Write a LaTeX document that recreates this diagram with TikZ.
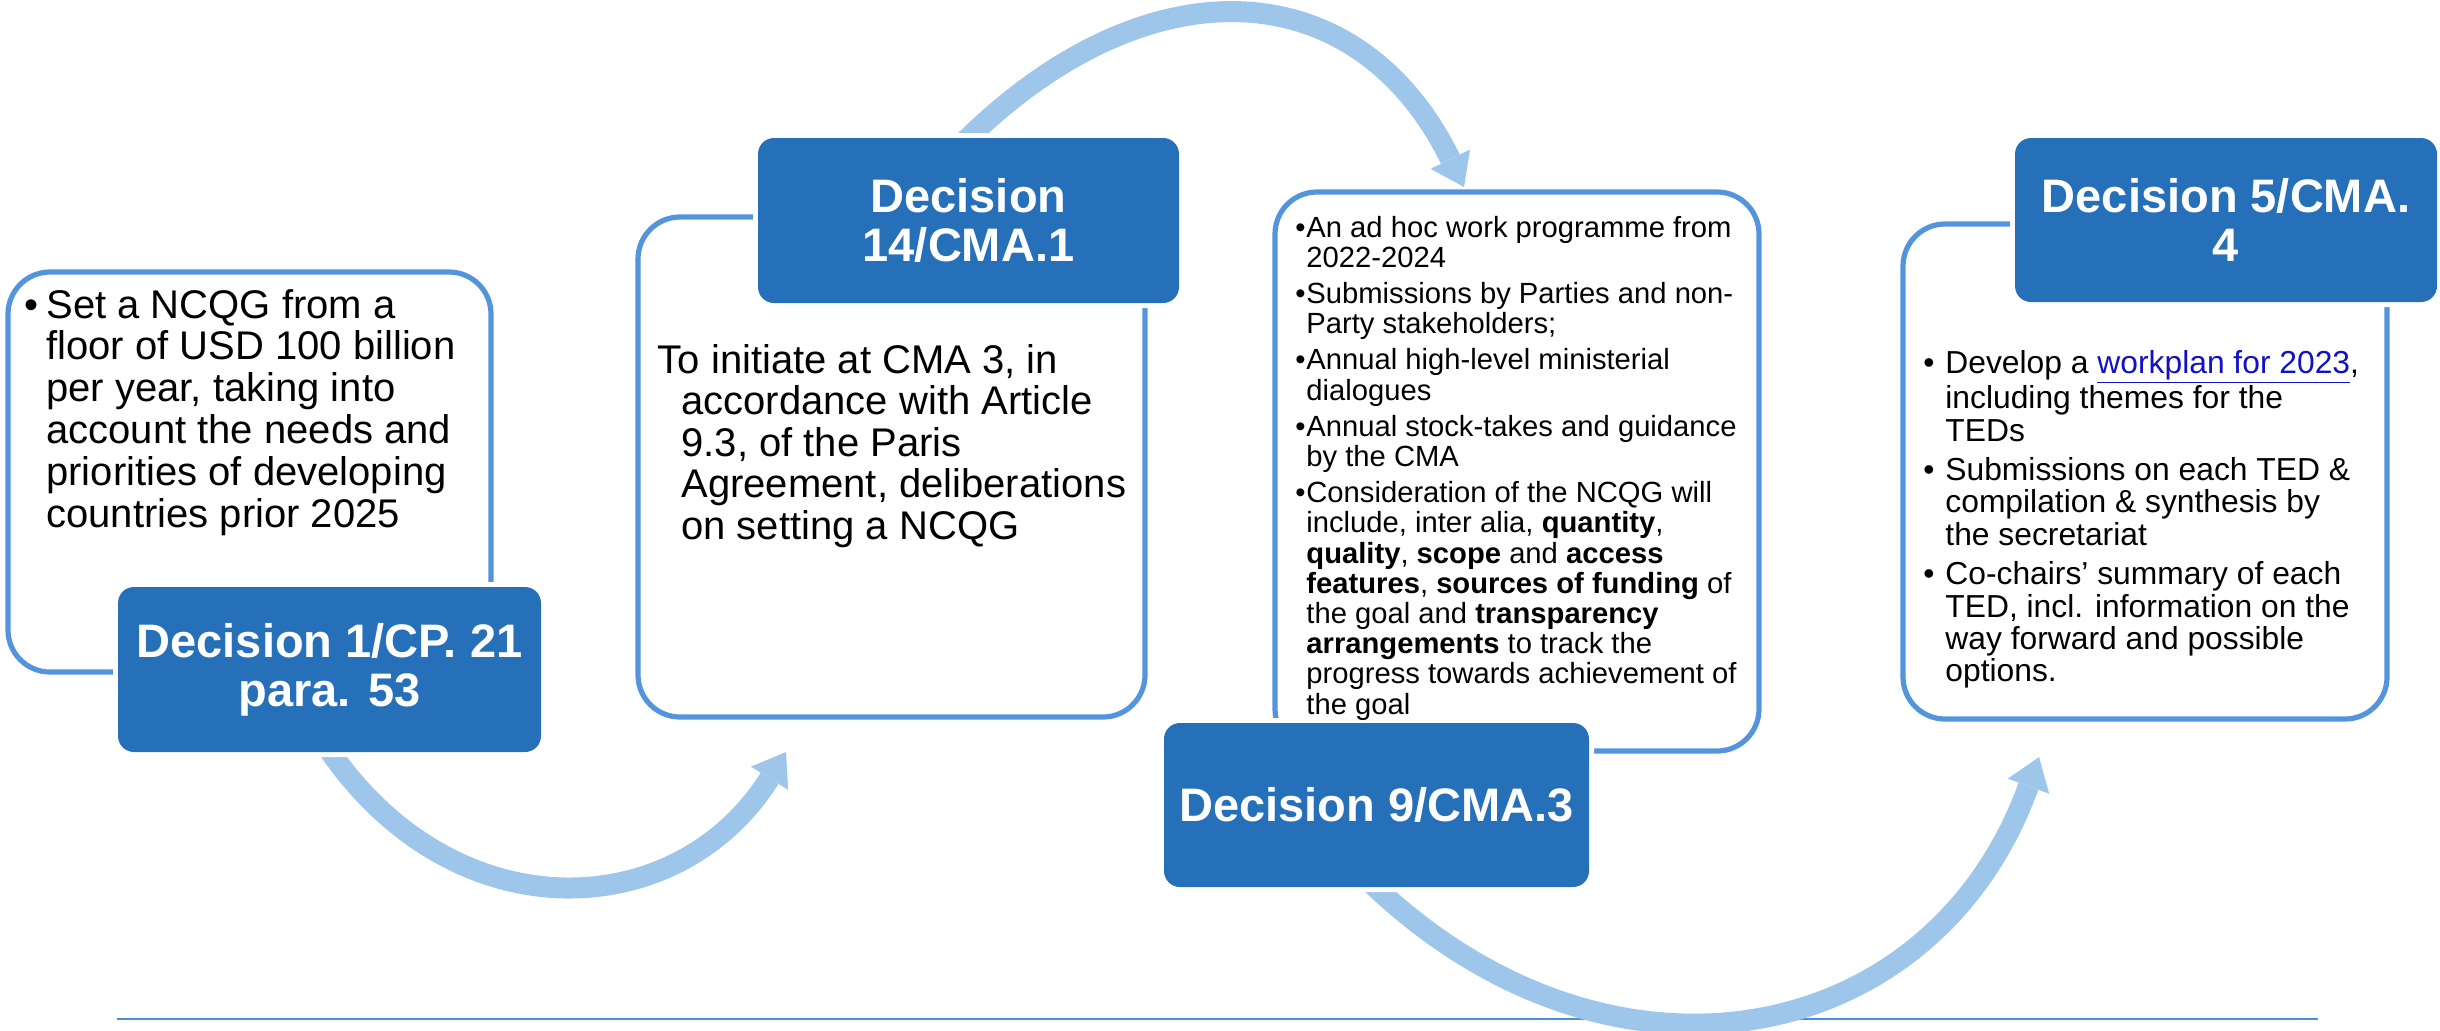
\documentclass[tikz,border=0pt]{standalone}
\usepackage{fontspec}
\setmainfont{Liberation Sans}
\usetikzlibrary{arrows.meta}
\definecolor{darkblue}{RGB}{38,112,185}
\definecolor{bordercol}{RGB}{83,148,221}
\definecolor{arrowcol}{RGB}{158,198,235}
\definecolor{linecol}{RGB}{74,144,217}
\definecolor{linkblue}{RGB}{17,17,204}
\newcommand{\hbul}[2]{\hangindent=#1\hangafter=1\noindent\makebox[#1][l]{•}#2\par}
\begin{document}
\begin{tikzpicture}[x=0.5pt,y=-0.5pt,
  wbox/.style={draw=bordercol, line width=2.6pt, rounded corners=21pt, fill=white, inner sep=0pt},
  bbox/.style={fill=darkblue, rounded corners=8pt, inner sep=0pt,
    preaction={draw=white,line width=5pt}, text=white,
    font=\bfseries\fontsize{23.5pt}{24.5pt}\selectfont, align=center},
  bigarrow/.style={draw=arrowcol, line width=10.5pt,
    -{Triangle[width=22pt,length=15.5pt,line width=0pt]}},
  txt/.style={anchor=base west, inner sep=0pt}]
\useasboundingbox (0,0) rectangle (2440,1030);

% bottom rule
\coordinate (l1) at (117,1019);
\coordinate (l2) at (2318,1019);
\draw[linecol, line width=1.4pt] (l1) -- (l2);

% white boxes
\node[wbox, minimum width=241.5pt, minimum height=200pt] (w1) at (249.5,472) {};
\node[wbox, minimum width=253.5pt, minimum height=250pt] (w2) at (891.5,467) {};
\node[wbox, minimum width=242pt, minimum height=279.5pt] (w3) at (1517,471.5) {};
\node[wbox, minimum width=242pt, minimum height=247.5pt] (w4) at (2145,471.5) {};

% arrows
\coordinate (a1s) at (323,741);
\coordinate (a1e) at (786,752);
\draw[bigarrow] (a1s) .. controls (449,935) and (677,926) .. (a1e);
\coordinate (a2s) at (964,142);
\coordinate (a2e) at (1464,187);
\draw[bigarrow] (a2s) .. controls (1148,-40) and (1358,-29) .. (a2e);
\coordinate (a3s) at (1371,883);
\coordinate (a3e) at (2039,757);
\draw[bigarrow] (a3s) .. controls (1610,1112) and (1933,1050) .. (a3e);

% blue heading boxes
\node[bbox, minimum width=211.5pt, minimum height=82.5pt] (d1) at (329.5,669.5) {Decision 1/CP. 21\\para. 53};
\node[bbox, minimum width=210.5pt, minimum height=82.5pt] (d2) at (968.5,220.5) {Decision\\14/CMA.1};
\node[bbox, minimum width=212.5pt, minimum height=82pt] (d3) at (1376.5,805) {Decision 9/CMA.3};
\node[bbox, minimum width=211pt, minimum height=82pt] (d4) at (2226,220) {Decision 5/CMA.\\4};

% texts
\node[txt] (t1) at (24,318) {\parbox[t]{400pt}{\fontsize{20pt}{20.9pt}\selectfont\raggedright
\hbul{11pt}{Set a NCQG from a\newline floor of USD 100 billion\newline per year, taking into\newline account the needs and\newline priorities of developing\newline countries prior 2025}}};

\node[txt] (t2) at (657.5,373) {\parbox[t]{400pt}{\fontsize{20pt}{20.75pt}\selectfont\raggedright
\hangindent=11.75pt\hangafter=1\noindent To initiate at CMA 3, in\newline accordance with Article\newline 9.3, of the Paris\newline Agreement, deliberations\newline on setting a NCQG\par}};

\node[txt] (t3) at (1295,237) {\parbox[t]{400pt}{\fontsize{14.6pt}{15.1pt}\selectfont\raggedright\setlength{\parskip}{3pt}
\hbul{5.5pt}{An ad hoc work programme from\newline 2022-2024}
\hbul{5.5pt}{Submissions by Parties and non-\newline Party stakeholders;}
\hbul{5.5pt}{Annual high-level ministerial\newline dialogues}
\hbul{5.5pt}{Annual stock-takes and guidance\newline by the CMA}
\hbul{5.5pt}{Consideration of the NCQG will\newline include, inter alia, \textbf{quantity},\newline \textbf{quality}, \textbf{scope} and \textbf{access}\newline \textbf{features}, \textbf{sources of funding} of\newline the goal and \textbf{transparency}\newline \textbf{arrangements} to track the\newline progress towards achievement of\newline the goal}}};

\node[txt] (t4) at (1923,373) {\parbox[t]{400pt}{\fontsize{15.9pt}{16.2pt}\selectfont\raggedright\setlength{\parskip}{3.5pt}
\hbul{11pt}{Develop a \textcolor{linkblue}{\underline{workplan for 2023}},\newline including themes for the\newline TEDs}
\hbul{11pt}{Submissions on each TED \&\newline compilation \& synthesis by\newline the secretariat}
\hbul{11pt}{Co-chairs’ summary of each\newline TED, incl. information on the\newline way forward and possible\newline options.}}};
\end{tikzpicture}
\end{document}
